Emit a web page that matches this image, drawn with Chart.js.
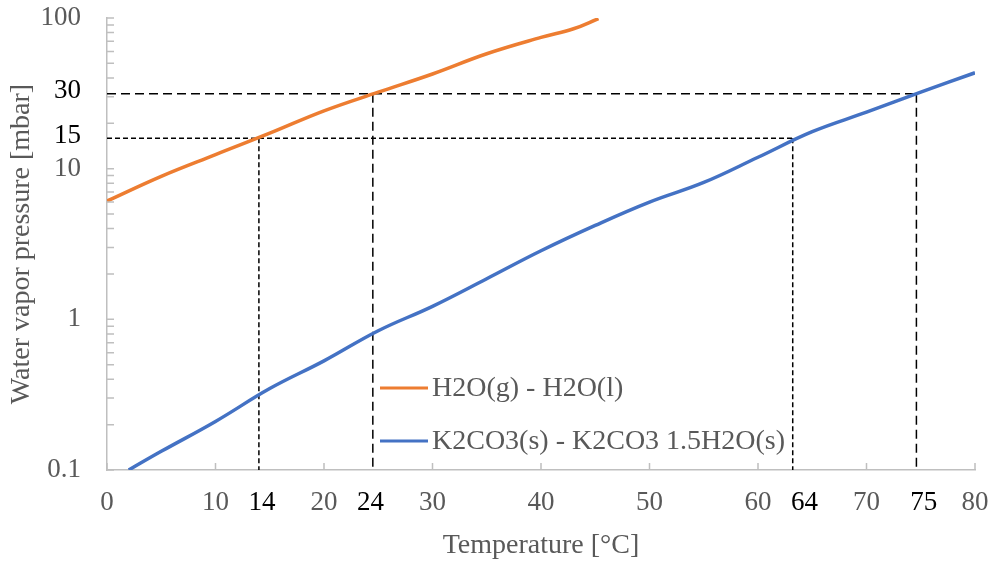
<!DOCTYPE html>
<html>
<head>
<meta charset="utf-8">
<script src="https://cdn.jsdelivr.net/npm/chart.js@4.4.1/dist/chart.umd.min.js"></script>
<style>
  html, body { margin: 0; padding: 0; background: #fff; }
  #wrap { width: 995px; height: 565px; }
</style>
</head>
<body>
<div id="wrap"><canvas id="chart" width="995" height="565"></canvas></div>
<script>
// H2O(g) - H2O(l) saturation curve
const h2oTemp = [0, 5, 10, 15, 20, 25, 30, 35, 40, 43, 45.3];
const h2oPressure = [6.1, 8.9, 12.4, 17.2, 24.2, 32.2, 42.5, 57.9, 74.3, 84.8, 99];

// K2CO3(s) - K2CO3 1.5H2O(s)
const k2co3Temp = [2, 5, 10, 15, 20, 25, 30, 35, 40, 45, 50, 55, 60, 65, 70, 75, 80];
const k2co3Pressure = [0.1, 0.133, 0.21, 0.347, 0.53, 0.84, 1.22, 1.86, 2.85, 4.2, 6.0, 8.1, 11.9, 17.6, 23.7, 32.2, 43.3];

// dashed guide lines: pressure level, and where each curve crosses it
const crossPressure = [15.9, 31.4];
const crossH2O = [14, 24.5];
const crossK2CO3 = [63.2, 74.6];

// axis ticks and the black annotation labels
const xTicks = [0, 10, 20, 30, 40, 50, 60, 70, 80];
const yTicks = [0.1, 1, 10, 100];
const markTemps = [14, 24, 64, 75];
const markPressures = [15, 30];

const gray = '#595959';
const axisGray = '#bfbfbf';
const font = 'Liberation Serif';

const yMinor = [];
[0.1, 1, 10].forEach(d => { for (let m = 1; m <= 10; m++) yMinor.push(d * m); });

const dashStyles = [[5, 3], [9, 5]];
const guideSets = [];
crossPressure.forEach((p, i) => {
  const style = { borderColor: '#000', borderWidth: 1.5, borderDash: dashStyles[i], pointRadius: 0, tension: 0, order: 5 };
  guideSets.push({ ...style, data: [{ x: 0, y: p }, { x: crossK2CO3[i], y: p }] });
  guideSets.push({ ...style, data: [{ x: crossH2O[i], y: p }, { x: crossH2O[i], y: 0.1 }] });
  guideSets.push({ ...style, data: [{ x: crossK2CO3[i], y: p }, { x: crossK2CO3[i], y: 0.1 }] });
});

const annotate = {
  id: 'annotate',
  afterDraw(chart) {
    const ctx = chart.ctx, xs = chart.scales.x, ys = chart.scales.y;
    ctx.save();
    // inward tick marks
    ctx.strokeStyle = axisGray;
    ctx.lineWidth = 1.5;
    ctx.beginPath();
    xTicks.forEach(v => {
      const px = xs.getPixelForValue(v);
      ctx.moveTo(px, ys.bottom); ctx.lineTo(px, ys.bottom - 7);
    });
    yMinor.forEach(v => {
      const py = ys.getPixelForValue(v);
      ctx.moveTo(xs.left, py); ctx.lineTo(xs.left + 7, py);
    });
    ctx.stroke();

    // black marker labels
    ctx.fillStyle = '#000';
    ctx.font = '27px "' + font + '"';
    ctx.textAlign = 'center';
    ctx.textBaseline = 'middle';
    markTemps.forEach(v => ctx.fillText(String(v), xs.getPixelForValue(v) + 3, 503));
    ctx.textAlign = 'right';
    markPressures.forEach(v => ctx.fillText(String(v), 81, ys.getPixelForValue(v) - 6));

    // legend inside the plot
    const lx = xs.left + 273, ly = ys.top + 370;
    ctx.font = '28px "' + font + '"';
    chart.data.datasets.filter(d => d.label).forEach((d, i) => {
      const yy = ly + i * 53;
      ctx.strokeStyle = d.borderColor;
      ctx.lineWidth = 3;
      ctx.beginPath(); ctx.moveTo(lx, yy); ctx.lineTo(lx + 48, yy); ctx.stroke();
      ctx.fillStyle = gray;
      ctx.textAlign = 'left';
      ctx.fillText(d.label, lx + 52, yy + 1);
    });
    ctx.restore();
  }
};

new Chart(document.getElementById('chart'), {
  type: 'line',
  data: {
    datasets: [
      {
        label: 'H2O(g) - H2O(l)',
        data: h2oTemp.map((t, i) => ({ x: t, y: h2oPressure[i] })),
        borderColor: '#ED7D31', borderWidth: 3.5, pointRadius: 0, tension: 0.4, order: 1
      },
      {
        label: 'K2CO3(s) - K2CO3 1.5H2O(s)',
        data: k2co3Temp.map((t, i) => ({ x: t, y: k2co3Pressure[i] })),
        borderColor: '#4472C4', borderWidth: 3.5, pointRadius: 0, tension: 0.4, order: 1
      },
      ...guideSets
    ]
  },
  options: {
    responsive: false,
    animation: false,
    layout: { padding: { top: 18, right: 20, left: 0, bottom: 0 } },
    plugins: { legend: { display: false }, tooltip: { enabled: false } },
    scales: {
      x: {
        type: 'linear', min: 0, max: 80,
        afterBuildTicks: s => { s.ticks = xTicks.map(v => ({ value: v })); },
        afterFit: s => { s.height = 95; s.paddingLeft = 0; s.paddingRight = 0; },
        grid: { drawOnChartArea: false, drawTicks: false },
        border: { color: axisGray, width: 1.5 },
        ticks: { color: gray, font: { family: font, size: 27 }, padding: 17, maxRotation: 0 },
        title: { display: true, text: 'Temperature [°C]', color: gray, font: { family: font, size: 28 }, padding: { top: 0, bottom: 3 } }
      },
      y: {
        type: 'logarithmic', min: 0.1, max: 100,
        afterBuildTicks: s => { s.ticks = yTicks.map(v => ({ value: v })); },
        afterFit: s => { s.width = 107; s.paddingTop = 0; s.paddingBottom = 0; },
        grid: { drawOnChartArea: false, drawTicks: false },
        border: { color: axisGray, width: 1.5 },
        ticks: { color: gray, font: { family: font, size: 27 }, padding: 26, callback: v => String(v) },
        title: { display: true, text: 'Water vapor pressure [mbar]', color: gray, font: { family: font, size: 28 }, padding: { top: 5, bottom: 0 } }
      }
    }
  },
  plugins: [annotate]
});
</script>
</body>
</html>
